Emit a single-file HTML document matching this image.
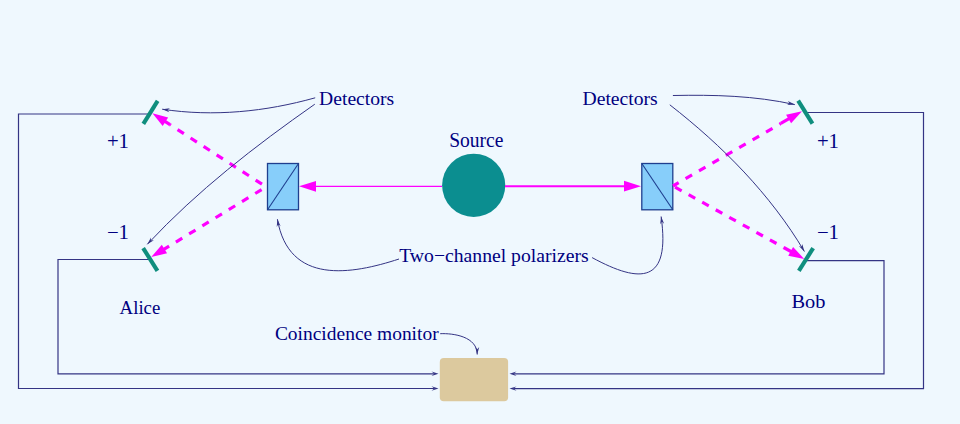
<!DOCTYPE html>
<html><head><meta charset="utf-8"><style>
html,body{margin:0;padding:0;background:#eff8fe;width:960px;height:424px;overflow:hidden}
svg{display:block}
text{font-family:"Liberation Serif",serif;fill:#000080;stroke:#000080;stroke-width:0px}
</style></head><body>
<svg width="960" height="424" viewBox="0 0 960 424">
<rect width="960" height="424" fill="#eff8fe"/>
<path d="M150.5,114 H18.5 V388.5 H434" stroke="#343484" stroke-width="1.2" fill="none"/>
<path d="M150.5,259.5 H58 V373.8 H434" stroke="#343484" stroke-width="1.2" fill="none"/>
<path d="M806,260.6 H884 V373.8 H514" stroke="#343484" stroke-width="1.2" fill="none"/>
<path d="M805.5,112.5 H923.5 V388.6 H514" stroke="#343484" stroke-width="1.2" fill="none"/>
<polygon points="438.50,373.80 431.50,371.60 434.30,373.80 431.50,376.00" fill="#343484"/>
<polygon points="438.50,388.50 431.50,386.30 434.30,388.50 431.50,390.70" fill="#343484"/>
<polygon points="509.50,373.80 516.50,376.00 513.70,373.80 516.50,371.60" fill="#343484"/>
<polygon points="509.50,388.60 516.50,390.80 513.70,388.60 516.50,386.40" fill="#343484"/>
<rect x="439.8" y="358" width="68.3" height="43.3" rx="4" fill="#dcc99e"/>
<line x1="143.34" y1="123.85" x2="157.66" y2="100.95" stroke="#0f8e7e" stroke-width="4.1" stroke-linecap="butt"/>
<line x1="143.15" y1="248.05" x2="157.46" y2="270.95" stroke="#0f8e7e" stroke-width="4.1" stroke-linecap="butt"/>
<line x1="798.14" y1="100.65" x2="812.45" y2="123.55" stroke="#0f8e7e" stroke-width="4.1" stroke-linecap="butt"/>
<line x1="798.85" y1="270.95" x2="813.15" y2="248.05" stroke="#0f8e7e" stroke-width="4.1" stroke-linecap="butt"/>
<rect x="267.5" y="163.5" width="31" height="46.3" fill="#87cefa" stroke="#1f3f8f" stroke-width="1.3"/>
<line x1="267.5" y1="209.8" x2="298.5" y2="163.5" stroke="#1f3f8f" stroke-width="1.1"/>
<rect x="641.8" y="163.5" width="31" height="46.3" fill="#87cefa" stroke="#1f3f8f" stroke-width="1.3"/>
<line x1="641.8" y1="163.5" x2="672.8" y2="209.8" stroke="#1f3f8f" stroke-width="1.1"/>
<circle cx="473.7" cy="185.3" r="31.6" fill="#0b8e90"/>
<line x1="442" y1="186.4" x2="310" y2="186.4" stroke="#ff00ff" stroke-width="1.1"/>
<polygon points="299.00,186.30 316.00,191.70 316.00,186.30 316.00,180.90" fill="#ff00ff"/>
<line x1="505" y1="186.2" x2="630" y2="186.2" stroke="#ff00ff" stroke-width="2"/>
<polygon points="641.00,186.20 624.00,180.80 624.00,186.20 624.00,191.60" fill="#ff00ff"/>
<path d="M267.00,187.40 L170.03,124.70" stroke="#ff00ff" stroke-width="3.2" stroke-dasharray="7.5 8" stroke-dashoffset="9.50" fill="none"/>
<line x1="159.12" y1="117.64" x2="170.03" y2="124.70" stroke="#ff00ff" stroke-width="3.2"/>
<polygon points="152.40,113.30 162.70,125.91 165.42,121.72 168.13,117.52" fill="#ff00ff"/>
<path d="M267.00,186.30 L169.12,246.15" stroke="#ff00ff" stroke-width="3.2" stroke-dasharray="7.5 8" stroke-dashoffset="9.20" fill="none"/>
<line x1="158.03" y1="252.93" x2="169.12" y2="246.15" stroke="#ff00ff" stroke-width="3.2"/>
<polygon points="151.20,257.10 167.03,253.28 164.42,249.01 161.82,244.75" fill="#ff00ff"/>
<path d="M673.00,186.00 L780.81,123.49" stroke="#ff00ff" stroke-width="3.2" stroke-dasharray="7.5 8" stroke-dashoffset="16.45" fill="none"/>
<line x1="795.08" y1="115.21" x2="780.81" y2="123.49" stroke="#ff00ff" stroke-width="3.2"/>
<polygon points="802.00,111.20 786.08,114.65 788.59,118.98 791.10,123.30" fill="#ff00ff"/>
<path d="M673.00,186.00 L783.66,247.49" stroke="#ff00ff" stroke-width="3.2" stroke-dasharray="7.5 8" stroke-dashoffset="13.10" fill="none"/>
<line x1="797.21" y1="255.01" x2="783.66" y2="247.49" stroke="#ff00ff" stroke-width="3.2"/>
<polygon points="804.20,258.90 793.08,247.00 790.65,251.37 788.22,255.74" fill="#ff00ff"/>
<path d="M315.2,97.8 C265.5,111.7 213.6,117.0 162.2,109.2" stroke="#343484" stroke-width="1.0" fill="none"/>
<polygon points="162.20,109.20 169.32,112.30 167.39,109.99 169.92,108.35" fill="#343484"/>
<path d="M314.8,104.2 C255.1,146.0 197.2,190.8 147.3,244.3" stroke="#343484" stroke-width="1.0" fill="none"/>
<polygon points="147.30,244.30 153.88,240.18 150.88,240.46 150.95,237.45" fill="#343484"/>
<path d="M672.9,95.5 C713.8,94.7 754.7,95.6 794.8,104.6" stroke="#343484" stroke-width="1.0" fill="none"/>
<polygon points="794.80,104.60 787.92,101.01 789.68,103.45 787.04,104.91" fill="#343484"/>
<path d="M669.8,104.8 C722.4,145.8 770.2,194.0 804.4,251.5" stroke="#343484" stroke-width="1.0" fill="none"/>
<polygon points="804.40,251.50 802.28,244.03 801.72,246.99 798.85,246.08" fill="#343484"/>
<path d="M399.0,259.0 C351.9,274.4 288.8,285.5 277.4,219.2" stroke="#343484" stroke-width="1.0" fill="none"/>
<polygon points="277.40,219.20 276.70,226.93 278.29,224.37 280.64,226.25" fill="#343484"/>
<path d="M592.1,257.6 C641.3,284.3 670.6,283.2 661.1,216.5" stroke="#343484" stroke-width="1.0" fill="none"/>
<polygon points="661.10,216.50 660.18,224.21 661.84,221.70 664.14,223.64" fill="#343484"/>
<path d="M440.2,333.7 C453.8,333.1 477.3,336.7 477.2,354.5" stroke="#343484" stroke-width="1.0" fill="none"/>
<polygon points="477.20,354.50 479.24,347.01 477.23,349.25 475.24,346.99" fill="#343484"/>
<text x="319.1" y="105.2" font-size="19" textLength="75.11" lengthAdjust="spacingAndGlyphs">Detectors</text>
<text x="582.5" y="105.0" font-size="19" textLength="75.21" lengthAdjust="spacingAndGlyphs">Detectors</text>
<text x="449.2" y="146.9" font-size="20" textLength="54.3" lengthAdjust="spacingAndGlyphs">Source</text>
<text x="106.9" y="147.65" font-size="20" textLength="22.13" lengthAdjust="spacingAndGlyphs">+1</text>
<text x="106.9" y="238.7" font-size="20" textLength="22.13" lengthAdjust="spacingAndGlyphs">−1</text>
<text x="816.9" y="147.65" font-size="20" textLength="22.13" lengthAdjust="spacingAndGlyphs">+1</text>
<text x="816.9" y="238.7" font-size="20" textLength="22.13" lengthAdjust="spacingAndGlyphs">−1</text>
<text x="119.55" y="313.7" font-size="19" textLength="40.81" lengthAdjust="spacingAndGlyphs">Alice</text>
<text x="791.4" y="307.8" font-size="19" textLength="33.99" lengthAdjust="spacingAndGlyphs">Bob</text>
<text x="399.2" y="261.7" font-size="19.4" textLength="189.52" lengthAdjust="spacingAndGlyphs">Two−channel polarizers</text>
<text x="274.9" y="339.7" font-size="19.3" textLength="163.75" lengthAdjust="spacingAndGlyphs">Coincidence monitor</text>
</svg>
</body></html>
